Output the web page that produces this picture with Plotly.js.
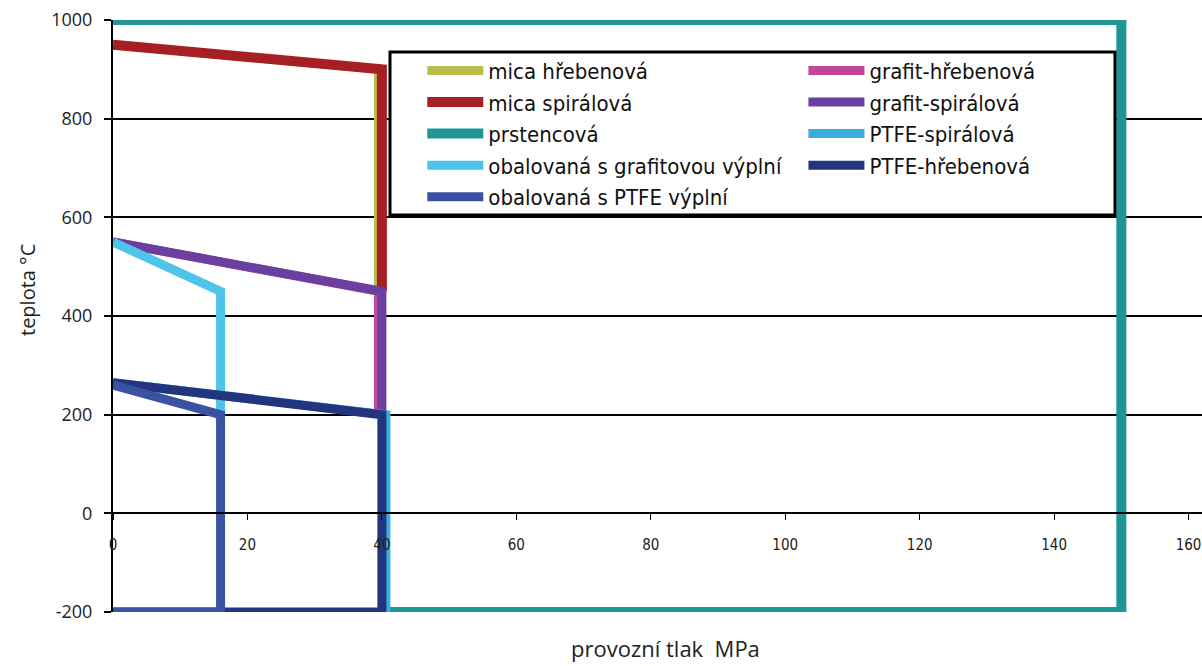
<!DOCTYPE html>
<html>
<head>
<meta charset="utf-8">
<script src="https://cdn.plot.ly/plotly-3.0.1.min.js"></script>
<style>html,body{margin:0;padding:0;background:#fff;}#chart{width:1202px;height:666px;}</style>
</head>
<body>
<div id="chart"></div>
<script>
// Series names
const names = [
  "mica hřebenová", "mica spirálová", "prstencová",
  "grafit-hřebenová", "grafit-spirálová",
  "obalovaná s grafitovou výplní",
  "PTFE-spirálová", "PTFE-hřebenová",
  "obalovaná s PTFE výplní"
];
// pressure (MPa) / temperature (°C) outlines
const micaHrebX = [0, 39.5, 39.5];
const micaHrebY = [950, 900, 450];
const micaSpirX = [0, 40, 40];
const micaSpirY = [950, 900, 450];
const prstX = [0, 150, 150, 40];
const prstY = [1000, 1000, -200, -200];
const grafHrebX = [0, 39.5, 39.5];
const grafHrebY = [550, 450, 200];
const grafSpirX = [0, 40, 40];
const grafSpirY = [550, 450, 200];
const obalGrafX = [0, 16, 16];
const obalGrafY = [550, 450, 200];
const ptfeSpirX = [0, 40.6, 40.6];
const ptfeSpirY = [265, 200, -200];
const ptfeHrebX = [0, 40, 40, 0];
const ptfeHrebY = [265, 200, -200, -200];
const obalPtfeX = [0, 16, 16, 0];
const obalPtfeY = [260, 200, -200, -200];

const xTicks = [0, 20, 40, 60, 80, 100, 120, 140, 160];
const yTicks = [-200, 0, 200, 400, 600, 800, 1000];

const colors = ["#b9bd4c", "#a51f23", "#1f9596", "#c2479b", "#6a3f9f", "#4fc4ea", "#3aaedc", "#243580", "#3a52a2"];
const widths = [9, 10, 10, 9, 9, 9, 9, 9, 9];
const legendOf = ["legend", "legend", "legend", "legend2", "legend2", "legend", "legend2", "legend2", "legend"];
const xs = [micaHrebX, micaSpirX, prstX, grafHrebX, grafSpirX, obalGrafX, ptfeSpirX, ptfeHrebX, obalPtfeX];
const ys = [micaHrebY, micaSpirY, prstY, grafHrebY, grafSpirY, obalGrafY, ptfeSpirY, ptfeHrebY, obalPtfeY];

const traces = names.map((n, i) => ({
  type: "scatter", mode: "lines", name: n, x: xs[i], y: ys[i],
  line: {color: colors[i], width: widths[i]},
  legend: legendOf[i], legendgroup: "g" + i,
  hoverinfo: "skip"
}));

const legFont = {family: "DejaVu Sans Condensed, Liberation Sans Narrow, Open Sans, sans-serif", size: 22, color: "#111"};

const layout = {
  width: 1202, height: 666,
  margin: {l: 113, r: 0, t: 20, b: 54},
  paper_bgcolor: "#fff", plot_bgcolor: "#fff",
  showlegend: true,
  xaxis: {
    range: [0, 162], tickvals: xTicks, ticktext: xTicks.map(String),
    anchor: "free", position: 200 / 1200,
    showgrid: false, zeroline: false,
    showline: true, linecolor: "#000", linewidth: 2,
    ticks: "outside", ticklen: 6, tickcolor: "#000", tickwidth: 1,
    ticklabelstandoff: 12,
    tickfont: {family: "Liberation Sans Narrow, DejaVu Sans Condensed, sans-serif", size: 15, color: "#222"}
  },
  yaxis: {
    range: [-200, 1000], tickvals: yTicks, ticktext: yTicks.map(String),
    showgrid: true, gridcolor: "#000", gridwidth: 2,
    zeroline: false,
    showline: true, linecolor: "#000", linewidth: 2,
    ticks: "outside", ticklen: 7, tickcolor: "#000", tickwidth: 2,
    ticklabelstandoff: 8,
    tickfont: {family: "Open Sans, sans-serif", size: 18, color: "#222"}
  },
  legend: {
    x: 0.284, y: 0.95, xanchor: "left", yanchor: "top",
    bgcolor: "rgba(0,0,0,0)", borderwidth: 0,
    font: legFont, itemwidth: 56, tracegroupgap: 0,
    traceorder: "normal"
  },
  legend2: {
    x: 0.634, y: 0.95, xanchor: "left", yanchor: "top",
    bgcolor: "rgba(0,0,0,0)", borderwidth: 0,
    font: legFont, itemwidth: 56, tracegroupgap: 0,
    traceorder: "normal"
  },
  shapes: [{
    type: "rect", xref: "paper", yref: "paper", layer: "above",
    x0: (390 - 113) / 1089, x1: (1115 - 113) / 1089,
    y0: (612 - 215) / 592, y1: (612 - 52) / 592,
    line: {color: "#000", width: 3}, fillcolor: "#fff"
  }],
  annotations: [
    {text: "teplota °C", xref: "paper", yref: "paper", x: (28 - 113) / 1089, y: (612 - 290) / 592,
     xanchor: "center", yanchor: "middle", textangle: -90, showarrow: false,
     font: {family: "Open Sans, sans-serif", size: 20, color: "#222"}},
    {text: "provozní tlak  MPa", xref: "paper", yref: "paper", x: (665 - 113) / 1089, y: (612 - 648) / 592,
     xanchor: "center", yanchor: "middle", showarrow: false,
     font: {family: "Open Sans, sans-serif", size: 22, color: "#222"}}
  ]
};

Plotly.newPlot("chart", traces, layout, {staticPlot: true, displayModeBar: false});
</script>
</body>
</html>
